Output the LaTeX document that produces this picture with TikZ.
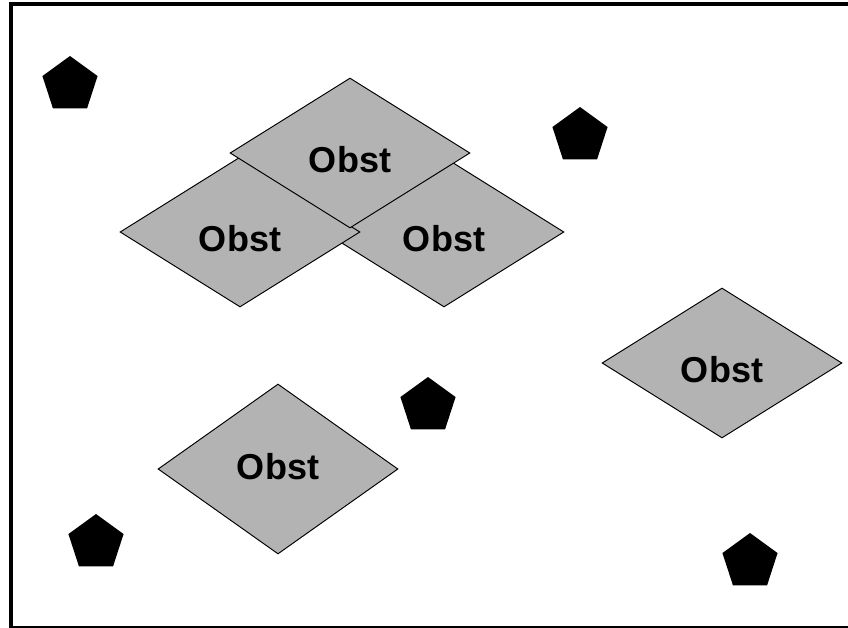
\documentclass[tikz,border=0pt]{standalone}
\usepackage{fontspec}
\setmainfont{Liberation Sans}
\usetikzlibrary{shapes.geometric}
\definecolor{obstgray}{HTML}{B3B3B3}

\begin{document}
\begin{tikzpicture}[x=0.02cm,y=-0.02cm,
  obst/.style={diamond,draw=black,fill=obstgray,line width=0.55pt,inner sep=0pt,
    minimum width=4.8cm,minimum height=3cm,text height=0.78cm,text depth=0pt,
    font=\fontsize{20.5}{24}\selectfont\bfseries},
  agent/.style={regular polygon,regular polygon sides=5,fill=black,inner sep=0pt,
    minimum size=1.16cm}]
\useasboundingbox (0,0) rectangle (848,628);
\draw[line width=0.065cm] (11,4) rectangle (870,628);

\node[obst] (ob3) at (444,232) {Obst};
\node[obst] (ob2) at (240,232) {Obst};
\node[obst] (ob1) at (350,153) {Obst};
\node[obst] (ob4) at (722,363) {Obst};
\node[obst,minimum height=3.4cm,text height=0.42cm] (ob5) at (278,469) {Obst};

\node[agent] (ag1) at (70,85) {};
\node[agent] (ag2) at (580,136) {};
\node[agent] (ag3) at (428,406) {};
\node[agent] (ag4) at (96,543) {};
\node[agent] (ag5) at (750,562) {};
\end{tikzpicture}
\end{document}
